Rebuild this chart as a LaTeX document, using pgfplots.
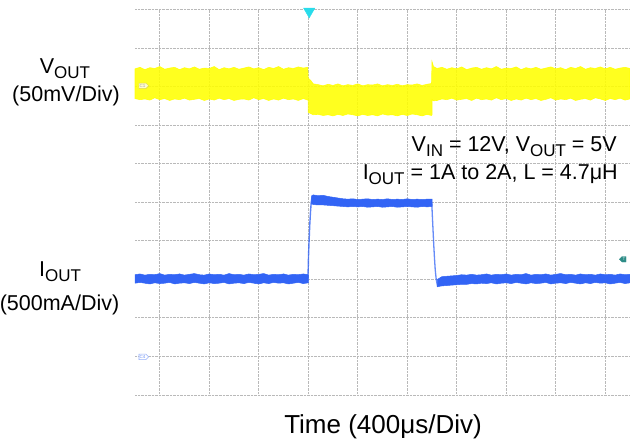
\documentclass[border=0pt]{standalone}
\usepackage{pgfplots}
\pgfplotsset{compat=1.18}
\usepackage{fontspec}
\setmainfont{Liberation Sans}
\usetikzlibrary{shapes.symbols}
\definecolor{ytrace}{RGB}{255,255,0}
\definecolor{btrace}{RGB}{50,100,245}
\definecolor{trig}{RGB}{40,220,235}
\definecolor{tealmk}{RGB}{45,140,135}
\newcommand{\lbl}{\fontsize{21.5bp}{25bp}\selectfont}
\newcommand{\sub}[1]{\raisebox{-5bp}{\fontsize{17bp}{17bp}\selectfont #1}}
\begin{document}
\begin{tikzpicture}[x=1bp,y=1bp]
\useasboundingbox (0,0) rectangle (630,447);
\begin{axis}[
  at={(135bp,52bp)}, anchor=south west,
  width=495bp, height=385.5bp, scale only axis,
  xmin=0, xmax=10, ymin=0, ymax=10,
  axis line style={draw=none},
  xtick={0.5,1.5,2.5,3.5,4.5,5.5,6.5,7.5,8.5,9.5},
  ytick={0,1,2,3,4,5,6,7,8,9,10},
  xticklabels={}, yticklabels={},
  major tick length=0pt,
  grid=major,
  major grid style={gray!55, densely dotted, line width=0.9bp},
  clip=false,
]
% VOUT (yellow noisy band)
\addplot[fill=ytrace, draw=ytrace, line width=0.6bp, fill opacity=0.88, draw opacity=0.88] coordinates {
(0.0,8.46)(0.1,8.50)(0.2,8.44)(0.3,8.49)(0.4,8.47)(0.5,8.52)(0.6,8.45)(0.7,8.48)(0.8,8.50)(0.9,8.44)
(1.0,8.49)(1.1,8.46)(1.2,8.51)(1.3,8.45)(1.4,8.48)(1.5,8.47)(1.6,8.52)(1.7,8.44)(1.8,8.49)(1.9,8.46)
(2.0,8.50)(2.1,8.45)(2.2,8.48)(2.3,8.51)(2.4,8.46)(2.5,8.49)(2.6,8.44)(2.7,8.50)(2.8,8.47)(2.9,8.52)
(3.0,8.45)(3.1,8.49)(3.2,8.47)(3.3,8.51)(3.4,8.48)(3.49,8.50)
(3.5,8.22)(3.55,8.16)(3.6,8.07)
(3.7,8.05)(3.8,8.02)(3.9,8.06)(4.0,8.03)(4.1,8.07)(4.2,8.02)(4.3,8.05)(4.4,8.03)(4.5,8.07)(4.6,8.02)
(4.7,8.05)(4.8,8.04)(4.9,8.07)(5.0,8.02)(5.1,8.05)(5.2,8.03)(5.3,8.06)(5.4,8.02)(5.5,8.05)(5.6,8.04)
(5.7,8.07)(5.8,8.03)(5.9,8.06)(5.99,8.08)
(6.0,8.65)(6.03,8.52)
(6.1,8.47)(6.2,8.50)(6.3,8.45)(6.4,8.49)(6.5,8.46)(6.6,8.51)(6.7,8.44)(6.8,8.48)(6.9,8.50)(7.0,8.45)
(7.1,8.49)(7.2,8.46)(7.3,8.52)(7.4,8.45)(7.5,8.48)(7.6,8.47)(7.7,8.51)(7.8,8.44)(7.9,8.49)(8.0,8.46)
(8.1,8.50)(8.2,8.45)(8.3,8.48)(8.4,8.51)(8.5,8.46)(8.6,8.49)(8.7,8.44)(8.8,8.50)(8.9,8.47)(9.0,8.52)
(9.1,8.45)(9.2,8.49)(9.3,8.47)(9.4,8.51)(9.5,8.46)(9.6,8.50)(9.7,8.45)(9.8,8.48)(9.9,8.50)(10.0,8.47)
(10.0,7.68)(9.9,7.65)(9.8,7.70)(9.7,7.66)(9.6,7.69)(9.5,7.64)(9.4,7.68)(9.3,7.71)(9.2,7.65)(9.1,7.69)
(9.0,7.67)(8.9,7.64)(8.8,7.70)(8.7,7.66)(8.6,7.68)(8.5,7.65)(8.4,7.71)(8.3,7.67)(8.2,7.64)(8.1,7.69)
(8.0,7.66)(7.9,7.70)(7.8,7.65)(7.7,7.68)(7.6,7.64)(7.5,7.69)(7.4,7.66)(7.3,7.71)(7.2,7.65)(7.1,7.68)
(7.0,7.66)(6.9,7.70)(6.8,7.64)(6.7,7.69)(6.6,7.67)(6.5,7.65)(6.4,7.70)(6.3,7.66)(6.2,7.68)(6.1,7.64)
(6.03,7.63)(6.0,7.67)
(6.0,7.27)(5.99,7.25)(5.9,7.28)(5.8,7.24)(5.7,7.27)(5.6,7.29)(5.5,7.25)(5.4,7.28)(5.3,7.24)(5.2,7.27)
(5.1,7.26)(5.0,7.29)(4.9,7.24)(4.8,7.27)(4.7,7.25)(4.6,7.28)(4.5,7.24)(4.4,7.27)(4.3,7.29)(4.2,7.25)
(4.1,7.28)(4.0,7.24)(3.9,7.27)(3.8,7.25)(3.7,7.28)(3.6,7.27)(3.55,7.30)(3.5,7.33)
(3.5,7.67)(3.49,7.65)(3.4,7.69)(3.3,7.64)(3.2,7.68)(3.1,7.66)(3.0,7.70)(2.9,7.65)(2.8,7.68)(2.7,7.64)
(2.6,7.69)(2.5,7.66)(2.4,7.71)(2.3,7.65)(2.2,7.68)(2.1,7.67)(2.0,7.64)(1.9,7.69)(1.8,7.66)(1.7,7.70)
(1.6,7.65)(1.5,7.68)(1.4,7.64)(1.3,7.69)(1.2,7.67)(1.1,7.65)(1.0,7.70)(0.9,7.66)(0.8,7.68)(0.7,7.64)
(0.6,7.69)(0.5,7.66)(0.4,7.71)(0.3,7.65)(0.2,7.68)(0.1,7.66)(0.0,7.69)
} -- cycle;
% IOUT (blue band) segment before step
\addplot[fill=btrace, draw=btrace, line width=0.5bp] coordinates {
(0.0,3.12)(0.1,3.14)(0.2,3.11)(0.3,3.13)(0.4,3.12)(0.5,3.15)(0.6,3.11)(0.7,3.13)(0.8,3.12)(0.9,3.14)
(1.0,3.11)(1.1,3.13)(1.2,3.15)(1.3,3.12)(1.4,3.11)(1.5,3.14)(1.6,3.12)(1.7,3.13)(1.8,3.11)(1.9,3.15)
(2.0,3.12)(2.1,3.13)(2.2,3.11)(2.3,3.14)(2.4,3.12)(2.5,3.13)(2.6,3.15)(2.7,3.11)(2.8,3.13)(2.9,3.12)
(3.0,3.14)(3.1,3.11)(3.2,3.13)(3.3,3.12)(3.4,3.14)(3.5,3.12)
(3.5,2.91)(3.4,2.89)(3.3,2.92)(3.2,2.90)(3.1,2.88)(3.0,2.91)(2.9,2.90)(2.8,2.92)(2.7,2.89)(2.6,2.91)
(2.5,2.88)(2.4,2.90)(2.3,2.92)(2.2,2.89)(2.1,2.91)(2.0,2.90)(1.9,2.88)(1.8,2.92)(1.7,2.90)(1.6,2.89)
(1.5,2.91)(1.4,2.88)(1.3,2.90)(1.2,2.92)(1.1,2.89)(1.0,2.91)(0.9,2.90)(0.8,2.88)(0.7,2.92)(0.6,2.90)
(0.5,2.89)(0.4,2.91)(0.3,2.88)(0.2,2.90)(0.1,2.92)(0.0,2.90)
} -- cycle;
% segment at 2 A
\addplot[fill=btrace, draw=btrace, line width=0.5bp] coordinates {
(3.57,5.17)(3.6,5.19)(3.7,5.17)(3.8,5.18)(3.9,5.15)(4.0,5.13)(4.1,5.11)(4.2,5.09)(4.3,5.08)(4.4,5.09)
(4.5,5.07)(4.6,5.08)(4.7,5.09)(4.8,5.07)(4.9,5.08)(5.0,5.07)(5.1,5.09)(5.2,5.07)(5.3,5.08)(5.4,5.07)
(5.5,5.09)(5.6,5.07)(5.7,5.08)(5.8,5.07)(5.9,5.08)(6.0,5.08)
(6.0,4.89)(5.9,4.88)(5.8,4.89)(5.7,4.87)(5.6,4.88)(5.5,4.89)(5.4,4.88)(5.3,4.87)(5.2,4.89)(5.1,4.88)
(5.0,4.87)(4.9,4.89)(4.8,4.88)(4.7,4.87)(4.6,4.89)(4.5,4.88)(4.4,4.89)(4.3,4.88)(4.2,4.89)(4.1,4.90)
(4.0,4.91)(3.9,4.92)(3.8,4.93)(3.7,4.93)(3.6,4.94)(3.57,4.96)
} -- cycle;
% segment after release
\addplot[fill=btrace, draw=btrace, line width=0.5bp] coordinates {
(6.11,3.00)(6.2,3.07)(6.3,3.08)(6.4,3.09)(6.5,3.10)(6.6,3.12)(6.7,3.11)(6.8,3.13)(6.9,3.11)(7.0,3.12)
(7.1,3.14)(7.2,3.11)(7.3,3.13)(7.4,3.12)(7.5,3.14)(7.6,3.11)(7.7,3.13)(7.8,3.12)(7.9,3.15)(8.0,3.11)
(8.1,3.13)(8.2,3.12)(8.3,3.14)(8.4,3.11)(8.5,3.13)(8.6,3.15)(8.7,3.12)(8.8,3.13)(8.9,3.11)(9.0,3.14)
(9.1,3.12)(9.2,3.13)(9.3,3.11)(9.4,3.14)(9.5,3.12)(9.6,3.13)(9.7,3.11)(9.8,3.14)(9.9,3.12)(10.0,3.13)
(10.0,2.91)(9.9,2.89)(9.8,2.92)(9.7,2.90)(9.6,2.88)(9.5,2.91)(9.4,2.90)(9.3,2.92)(9.2,2.89)(9.1,2.91)
(9.0,2.88)(8.9,2.90)(8.8,2.92)(8.7,2.89)(8.6,2.91)(8.5,2.90)(8.4,2.88)(8.3,2.92)(8.2,2.90)(8.1,2.89)
(8.0,2.91)(7.9,2.88)(7.8,2.90)(7.7,2.92)(7.6,2.89)(7.5,2.91)(7.4,2.90)(7.3,2.88)(7.2,2.91)(7.1,2.89)
(7.0,2.90)(6.9,2.88)(6.8,2.89)(6.7,2.87)(6.6,2.87)(6.5,2.86)(6.4,2.85)(6.3,2.84)(6.2,2.83)(6.11,2.81)
} -- cycle;
% rising and falling edges
\addplot[btrace, line width=1.4bp, draw opacity=0.8] coordinates {
(3.49,3.00)(3.50,3.30)(3.505,3.60)(3.515,3.94)(3.53,4.40)(3.545,4.75)(3.56,5.00)(3.58,5.15)};
\addplot[btrace, line width=1.3bp, draw opacity=0.75] coordinates {
(5.995,5.00)(6.005,4.70)(6.02,4.30)(6.035,3.90)(6.05,3.55)(6.065,3.25)(6.085,3.00)(6.11,2.83)(6.13,2.86)};
% trigger position marker
\addplot[only marks, mark=triangle*, mark size=6.5bp, mark options={rotate=180, fill=trig, draw=trig}] coordinates {(3.52,9.95)};
% channel / trigger level markers
\node[signal, signal to=east, fill=yellow!20!white, draw=yellow!70!gray, line width=0.4bp,
  inner sep=0.6bp, minimum height=5.5bp, font=\fontsize{4.5bp}{4.5bp}\selectfont, text=gray!70]
  at (axis cs:0.15,8.02) {C1};
\node[signal, signal to=east, fill=white, draw=btrace!50!white, line width=0.6bp,
  inner sep=0.6bp, minimum height=5.5bp, font=\fontsize{4.5bp}{4.5bp}\selectfont, text=btrace!70!white]
  at (axis cs:0.15,0.99) {C4};
\node[signal, signal to=west, fill=tealmk, draw=tealmk,
  inner sep=0.6bp, minimum height=5.5bp, font=\fontsize{4.5bp}{4.5bp}\selectfont, text=white!80!tealmk]
  at (axis cs:9.88,3.52) {T};
\end{axis}
% labels
\node[anchor=base, inner sep=0] at (65,373) {\lbl V\sub{OUT}};
\node[anchor=base, inner sep=0] at (66,345.5) {\lbl (50mV/Div)};
\node[anchor=base, inner sep=0] at (60,170) {\lbl I\sub{OUT}};
\node[anchor=base, inner sep=0] at (59.5,136) {\lbl (500mA/Div)};
\node[anchor=base east, inner sep=0] at (617,295.3) {\lbl V\sub{IN} = 12V, V\sub{OUT} = 5V};
\node[anchor=base east, inner sep=0] at (618,267) {\lbl I\sub{OUT} = 1A to 2A, L = 4.7μH};
\node[anchor=base, inner sep=0] at (383,13) {\fontsize{26bp}{30bp}\selectfont Time (400μs/Div)};
\end{tikzpicture}
\end{document}
